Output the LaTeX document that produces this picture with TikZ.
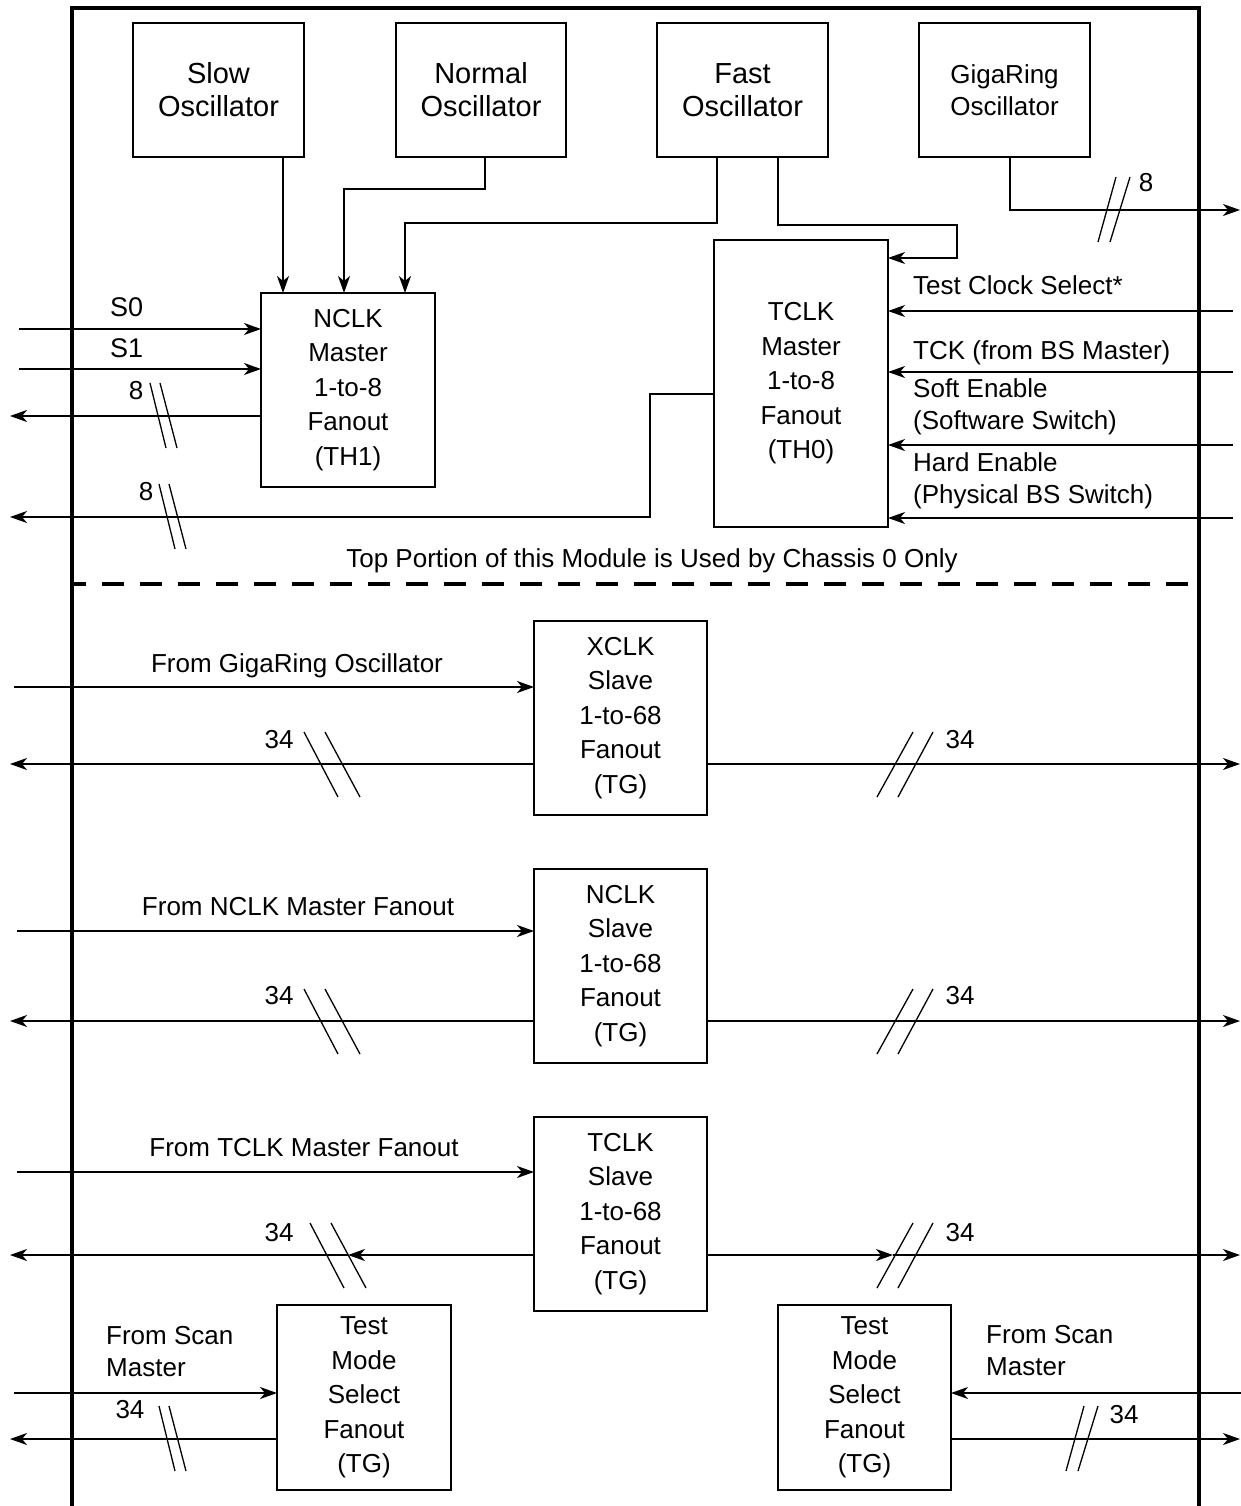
\documentclass[tikz,border=0pt]{standalone}
\usepackage{fontspec}
\setmainfont{Liberation Sans}
\usetikzlibrary{arrows.meta}
\begin{document}
\begin{tikzpicture}[x=1pt,y=-1pt,
  box/.style={draw,line width=1.8pt,inner sep=0pt,outer sep=0pt,align=center,font=\fontsize{26}{34.5}\selectfont},
  oscbox/.style={box,minimum width=171pt,minimum height=134pt,font=\fontsize{29}{33}\selectfont},
  fanbox/.style={box,minimum width=174pt,minimum height=194pt},
  lbl/.style={inner sep=0pt,font=\fontsize{26}{32}\selectfont},
  lblw/.style={lbl,anchor=west,align=left},
  arr/.style={line width=1.6pt,-{Stealth[length=17pt,width=12pt,inset=5pt]}},
  ln/.style={line width=1.6pt},
  sl/.style={line width=1.3pt},
  fsl/.pic={\draw[sl] (-18,33)--(18,-32) (3,33)--(38,-32);},
  bsl/.pic={\draw[sl] (-17,-32)--(17,33) (4,-32)--(39,33);},
  fss/.pic={\draw[sl] (-9,32)--(9,-33) (3,32)--(23,-33);},
  bss/.pic={\draw[sl] (-8,-33)--(8,32) (2,-33)--(19,32);}
]
\useasboundingbox (0,0) rectangle (1241,1506);

% frame
\draw[line width=3.6pt] (72,1512) -- (72,8) -- (1199,8) -- (1199,1512);
\draw[line width=3.4pt,dash pattern=on 22pt off 16pt,dash phase=10pt] (74,584) -- (1197,584);

% oscillators
\node[oscbox] (slow) at (218.5,90) {Slow\\Oscillator};
\node[oscbox,minimum width=170pt] (normal) at (481,90) {Normal\\Oscillator};
\node[oscbox] (fast) at (742.5,90) {Fast\\Oscillator};
\node[oscbox,font=\fontsize{26}{32}\selectfont] (giga) at (1004.5,90) {GigaRing\\Oscillator};

% masters
\node[fanbox] (nclkm) at (348,390) {NCLK\\Master\\1-to-8\\Fanout\\(TH1)};
\node[fanbox,minimum height=287pt] (tclkm) at (801,383.5) {TCLK\\Master\\1-to-8\\Fanout\\(TH0)};

% slaves
\node[fanbox,minimum width=173pt] (xclk) at (620.5,718) {XCLK\\Slave\\1-to-68\\Fanout\\(TG)};
\node[fanbox,minimum width=173pt] (nclks) at (620.5,966) {NCLK\\Slave\\1-to-68\\Fanout\\(TG)};
\node[fanbox,minimum width=173pt] (tclks) at (620.5,1214) {TCLK\\Slave\\1-to-68\\Fanout\\(TG)};
\node[fanbox,minimum height=185pt] (tmsl) at (364,1397.5) {Test\\Mode\\Select\\Fanout\\(TG)};
\node[fanbox,minimum width=173pt,minimum height=185pt] (tmsr) at (864.5,1397.5) {Test\\Mode\\Select\\Fanout\\(TG)};

% helper coordinates
\coordinate (xS) at (283,0);
\coordinate (xNo) at (485,0);
\coordinate (xNi) at (344,0);
\coordinate (xFl) at (717,0);
\coordinate (xFi) at (405,0);
\coordinate (xFr) at (778,0);
\coordinate (xG) at (1010,0);
\coordinate (gOut) at (1240,210);
\coordinate (s0in) at (19,329);
\coordinate (s1in) at (19,369);
\coordinate (o1) at (10,416);
\coordinate (tk) at (650,394);
\coordinate (o2) at (10,517);
\coordinate (r1) at (1233,311);
\coordinate (r2) at (1233,372);
\coordinate (r3) at (1233,445);
\coordinate (r4) at (1233,518);
\coordinate (xin) at (14,687);
\coordinate (xol) at (10,764);
\coordinate (xor) at (1240,764);
\coordinate (nin) at (17,931);
\coordinate (nol) at (10,1021);
\coordinate (nor) at (1240,1021);
\coordinate (tin) at (17,1172);
\coordinate (tol) at (10,1255);
\coordinate (tor) at (1240,1255);
\coordinate (tml) at (348,1255);
\coordinate (tmr) at (893,1255);
\coordinate (lin) at (14,1393);
\coordinate (lout) at (10,1439);
\coordinate (rin) at (1241,1393);
\coordinate (rout) at (1240,1439);

% top connectors
\draw[arr] (slow.south -| xS) -- (nclkm.north -| xS);
\draw[arr] (normal.south -| xNo) -- ++(0,32) -| (nclkm.north -| xNi);
\draw[arr] (fast.south -| xFl) -- ++(0,66) -| (nclkm.north -| xFi);
\draw[arr] (fast.south -| xFr) -- ++(0,68) -- ++(179,0) -- ++(0,33) -- ++(-69,0);
\draw[arr] (giga.south -| xG) |- (gOut);
\pic at (1107,210) {fss};
\node[lbl] (g8) at (1146,183) {8};

\draw[arr] (s0in) -- (nclkm.west |- s0in);
\draw[arr] (s1in) -- (nclkm.west |- s1in);
\draw[arr] (nclkm.west |- o1) -- (o1);
\pic at (158,416) {bss};
\draw[arr] (tclkm.west |- tk) -- (tk) |- (o2);
\pic at (167,517) {bss};
\node[lblw,font=\fontsize{27}{32}\selectfont] (s0) at (110,307) {S0};
\node[lblw,font=\fontsize{27}{32}\selectfont] (s1) at (110,348) {S1};
\node[lbl] (n8a) at (136,391) {8};
\node[lbl] (n8b) at (146,492) {8};

\draw[arr] (r1) -- (tclkm.east |- r1);
\draw[arr] (r2) -- (tclkm.east |- r2);
\draw[arr] (r3) -- (tclkm.east |- r3);
\draw[arr] (r4) -- (tclkm.east |- r4);
\node[lblw] (tcs) at (913,285) {Test Clock Select*};
\node[lblw] (tck) at (913,352.6) {TCK (from BS Master)};
\node[lblw] (soft) at (913,407) {Soft Enable\\(Software Switch)};
\node[lblw] (hard) at (913,481) {Hard Enable\\(Physical BS Switch)};

\node[lbl] (top) at (652,561) {Top Portion of this Module is Used by Chassis 0 Only};

% XCLK slave
\draw[arr] (xin) -- (xclk.west |- xin);
\draw[arr] (xclk.west |- xol) -- (xol);
\draw[arr] (xclk.east |- xor) -- (xor);
\pic at (321,764) {bsl};
\pic at (895,764) {fsl};
\node[lbl] (fg) at (297,666) {From GigaRing Oscillator};
\node[lbl] (x34l) at (279,740) {34};
\node[lbl] (x34r) at (960,740) {34};

% NCLK slave
\draw[arr] (nin) -- (nclks.west |- nin);
\draw[arr] (nclks.west |- nol) -- (nol);
\draw[arr] (nclks.east |- nor) -- (nor);
\pic at (321,1021) {bsl};
\pic at (895,1021) {fsl};
\node[lbl] (fn) at (298,907) {From NCLK Master Fanout};
\node[lbl] (n34l) at (279,996) {34};
\node[lbl] (n34r) at (960,996) {34};

% TCLK slave
\draw[arr] (tin) -- (tclks.west |- tin);
\draw[arr] (tclks.west |- tol) -- (tml);
\draw[arr] (tml) -- (tol);
\draw[arr] (tclks.east |- tor) -- (tmr);
\draw[arr] (tmr) -- (tor);
\pic at (327,1255) {bsl};
\pic at (895,1255) {fsl};
\node[lbl] (ft) at (304,1148) {From TCLK Master Fanout};
\node[lbl] (t34l) at (279,1233) {34};
\node[lbl] (t34r) at (960,1233) {34};

% Test mode select
\draw[arr] (lin) -- (tmsl.west |- lin);
\draw[arr] (tmsl.west |- lout) -- (lout);
\pic at (167,1439) {bss};
\node[lblw] (fsl1) at (106,1352) {From Scan\\Master};
\node[lbl] (l34) at (130,1410) {34};

\draw[arr] (rin) -- (tmsr.east |- rin);
\draw[arr] (tmsr.east |- rout) -- (rout);
\pic at (1075,1439) {fss};
\node[lblw] (fsr1) at (986,1350.5) {From Scan\\Master};
\node[lbl] (r34) at (1124,1415) {34};
\end{tikzpicture}
\end{document}
